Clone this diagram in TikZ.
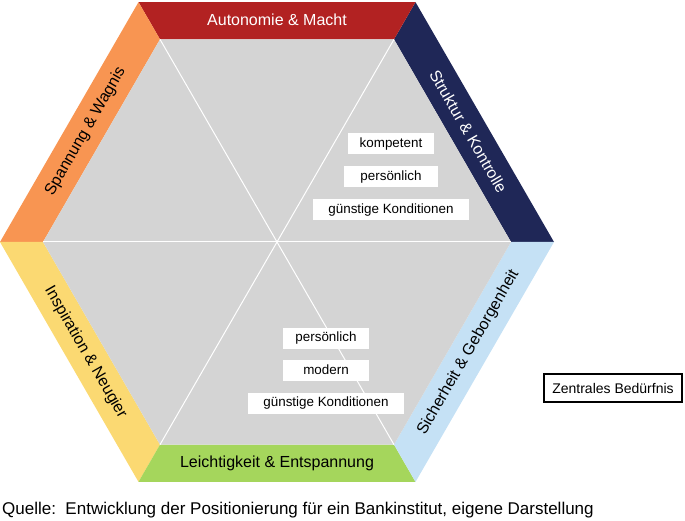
\documentclass[tikz,border=0pt]{standalone}
\usepackage{fontspec}
\setmainfont{Liberation Sans}
\usetikzlibrary{calc}
\begin{document}
\begin{tikzpicture}[x=1pt,y=-1pt,
 band/.style={font=\fontsize{16}{18}\selectfont},
 wbox/.style={fill=white,font=\fontsize{13.4}{15}\selectfont,inner sep=0pt,minimum height=21pt},
 spoke/.style={white,line width=1pt}]
\useasboundingbox (0,0) rectangle (685,521);
\coordinate (C) at (277,242);
\definecolor{cred}{HTML}{B22222}
\definecolor{cnavy}{HTML}{1F2757}
\definecolor{cblue}{HTML}{C5E1F5}
\definecolor{cgreen}{HTML}{A5D65C}
\definecolor{cyel}{HTML}{FBD972}
\definecolor{corg}{HTML}{F89552}
\foreach \a/\n in {0/0,60/1,120/2,180/3,240/4,300/5}{
  \coordinate (O\n) at ($(C)+({277*cos(\a)},{-277*sin(\a)})$);
  \coordinate (I\n) at ($(C)+({234*cos(\a)},{-234*sin(\a)})$);
}
\fill[cnavy] (O0)--(O1)--(I1)--(I0)--cycle;
\fill[cred] (O1)--(O2)--(I2)--(I1)--cycle;
\fill[corg] (O2)--(O3)--(I3)--(I2)--cycle;
\fill[cyel] (O3)--(O4)--(I4)--(I3)--cycle;
\fill[cgreen] (O4)--(O5)--(I5)--(I4)--cycle;
\fill[cblue] (O5)--(O0)--(I0)--(I5)--cycle;
\fill[black!17] (I0)--(I1)--(I2)--(I3)--(I4)--(I5)--cycle;
\foreach \n in {0,...,5}{\draw[spoke] (C)--(I\n);}
\node[band,white] (t1) at (277,20) {Autonomie \& Macht};
\node[band,white,rotate=-60] (t2) at (468.4,131.5) {Struktur \& Kontrolle};
\node[band,black,rotate=60] (t3) at (468.4,352.5) {Sicherheit \& Geborgenheit};
\node[band,black] (t4) at (277,463) {Leichtigkeit \& Entspannung};
\node[band,black,rotate=-60] (t5) at (85.6,352.5) {Inspiration \& Neugier};
\node[band,black,rotate=60] (t6) at (85.6,131.5) {Spannung \& Wagnis};
\node[wbox,minimum width=86pt] (a1) at (391,144) {kompetent};
\node[wbox,minimum width=94pt] (a2) at (391,177) {persönlich};
\node[wbox,minimum width=156pt] (a3) at (391,210) {günstige Konditionen};
\node[wbox,minimum width=86pt] (b1) at (326,338) {persönlich};
\node[wbox,minimum width=86pt] (b2) at (326,370) {modern};
\node[wbox,minimum width=156pt] (b3) at (326,403) {günstige Konditionen};
\node[draw=black,line width=1.8pt,fill=white,minimum width=138pt,minimum height=28pt,inner sep=0pt,font=\fontsize{14}{16}\selectfont] (z) at (613,388) {Zentrales Bedürfnis};
\node[anchor=west,font=\fontsize{17}{19}\selectfont,inner sep=0pt] (q) at (2,510) {Quelle:\ \ Entwicklung der Positionierung für ein Bankinstitut, eigene Darstellung};
\end{tikzpicture}
\end{document}
